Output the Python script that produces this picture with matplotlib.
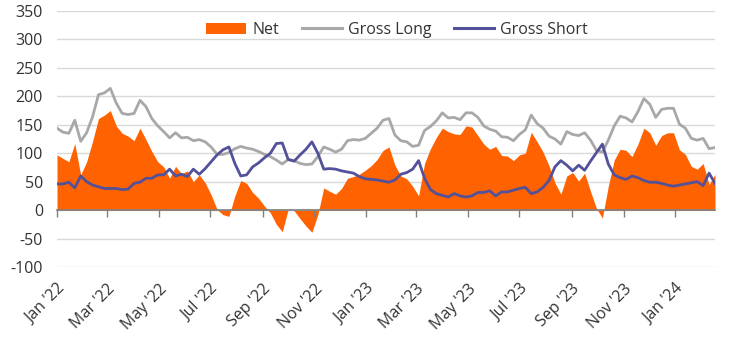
import matplotlib
matplotlib.use("Agg")
import matplotlib.pyplot as plt
import matplotlib.dates as mdates
from matplotlib.patches import Patch
from matplotlib.lines import Line2D
import numpy as np
import datetime as dt

# ---- data (weekly, from 4 Jan 2022) ----
start_date = dt.date(2022, 1, 4)
n_weeks = 112
dates = [start_date + dt.timedelta(weeks=i) for i in range(n_weeks)]

gross_long = [144, 137, 135, 158, 121, 136, 164, 203, 206, 214,
              188, 170, 168, 170, 193, 182, 161, 148, 138, 127,
              136, 127, 128, 122, 124, 120, 111, 98, 98, 101,
              108, 112, 109, 107, 103, 98, 94, 88, 81, 89,
              87, 82, 80, 81, 94, 111, 107, 102, 107, 122,
              124, 123, 126, 135, 144, 158, 161, 132, 122, 120,
              112, 114, 140, 147, 157, 171, 162, 163, 159, 171,
              171, 163, 148, 142, 139, 129, 128, 122, 133, 141,
              167, 152, 144, 130, 125, 116, 138, 133, 131, 136,
              123, 105, 102, 123, 148, 165, 162, 155, 173, 196,
              186, 163, 177, 179, 179, 151, 144, 126, 123, 126,
              108, 110]

gross_short = [46, 46, 49, 39, 60, 50, 44, 41, 38, 38,
               38, 36, 37, 47, 49, 56, 56, 62, 62, 72,
               60, 63, 59, 72, 63, 73, 85, 97, 106, 111,
               82, 60, 62, 76, 83, 92, 100, 117, 118, 89,
               86, 97, 107, 120, 100, 72, 73, 72, 69, 67,
               65, 59, 55, 54, 53, 51, 49, 53, 63, 66,
               72, 87, 56, 36, 29, 26, 23, 29, 25, 23,
               25, 31, 31, 34, 25, 32, 32, 35, 38, 40,
               29, 32, 40, 52, 76, 87, 79, 69, 79, 70,
               86, 101, 116, 81, 62, 57, 54, 60, 57, 52,
               49, 49, 47, 44, 42, 44, 46, 48, 50, 43,
               65, 47]

net = [97, 91, 85, 117, 62, 85, 121, 161, 167, 175,
       148, 135, 130, 122, 144, 124, 103, 85, 76, 56,
       77, 64, 69, 50, 62, 48, 27, 1, -8, -11,
       25, 52, 47, 31, 21, 7, -5, -25, -38, 1,
       -1, -15, -28, -39, -8, 39, 33, 28, 38, 56,
       59, 63, 70, 78, 89, 105, 111, 79, 60, 55,
       42, 25, 82, 108, 128, 144, 138, 134, 133, 148,
       146, 131, 116, 107, 112, 96, 95, 87, 97, 100,
       137, 120, 102, 78, 48, 28, 60, 66, 51, 65,
       33, 3, -14, 42, 88, 107, 105, 94, 116, 144,
       136, 114, 131, 136, 136, 106, 98, 77, 72, 82,
       45, 63]

tick_labels = ["Jan '22", "Mar '22", "May '22", "Jul '22", "Sep '22", "Nov '22",
               "Jan '23", "Mar '23", "May '23", "Jul '23", "Sep '23", "Nov '23",
               "Jan '24"]
tick_dates = [dt.date(2022 + (2 * k) // 12, (2 * k) % 12 + 1, 4) for k in range(len(tick_labels))]

y_ticks = list(range(-100, 351, 50))

# ---- style ----
plt.rcParams['font.family'] = ['Open Sans', 'DejaVu Sans']
text_color = '#333333'
c_net = '#FF6200'
c_long = '#A8A8A8'
c_short = '#525199'
fs = 11.5

x = mdates.date2num(dates)
xt = mdates.date2num(tick_dates)

fig = plt.figure(figsize=(7.44, 3.43), dpi=100)
ax = fig.add_axes([57 / 744, 1 - 267 / 343, (715 - 57) / 744, (267 - 11) / 343])

ax.fill_between(x, net, 0, color=c_net, linewidth=0, zorder=2)
ax.plot(x, gross_long, color=c_long, lw=2.0, zorder=3)
ax.plot(x, gross_short, color=c_short, lw=2.0, zorder=4)

ax.set_xlim(x[0], x[-1])
ax.set_ylim(-100, 350)
ax.set_yticks(y_ticks)
ax.set_yticklabels([str(v) for v in y_ticks])
ax.yaxis.grid(True, color='#d9d9d9', lw=1.0, zorder=0)
ax.set_axisbelow(True)
for s in ax.spines.values():
    s.set_visible(False)
ax.tick_params(axis='y', length=0, pad=10, labelsize=fs, labelcolor=text_color)

ax.set_xticks(xt)
ax.set_xticklabels(tick_labels, rotation=45, ha='right', rotation_mode='anchor')
ax.tick_params(axis='x', length=0, pad=10, labelsize=fs, labelcolor=text_color)

# zero axis line with tick marks
sec = ax.secondary_xaxis(100 / 450)
sec.set_xticks(xt)
sec.set_xticklabels([''] * len(xt))
sec.tick_params(axis='x', length=5, width=1, color='#7f7f7f', direction='out')
sec.spines['bottom'].set_color('#7f7f7f')
sec.spines['bottom'].set_linewidth(1.2)
sec.set_zorder(5)

handles = [Patch(facecolor=c_net, edgecolor='none'),
           Line2D([], [], color=c_long, lw=2.2),
           Line2D([], [], color=c_short, lw=2.2)]
ax.legend(handles, ['Net', 'Gross Long', 'Gross Short'], ncol=3, frameon=False,
          loc='center', bbox_to_anchor=(0.517, 0.926), fontsize=fs,
          handlelength=2.5, handletextpad=0.4, columnspacing=1.4,
          labelcolor=text_color)

fig.savefig('out.png', dpi=100)
